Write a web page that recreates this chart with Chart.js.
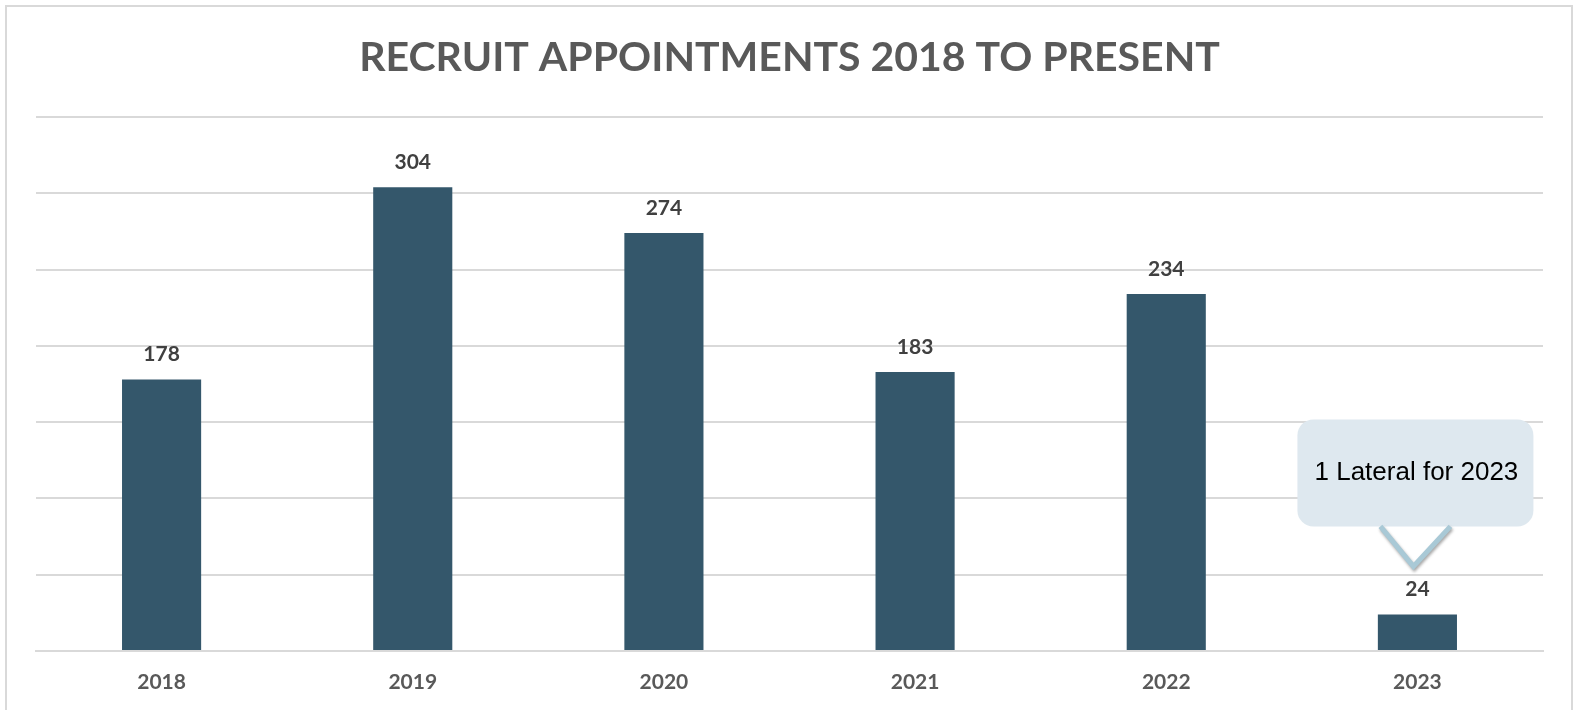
<!DOCTYPE html>
<html>
<head>
<meta charset="utf-8">
<script src="https://cdn.jsdelivr.net/npm/chart.js@4"></script>
<style>
  html, body { margin: 0; padding: 0; background: #fff; }
  #wrap { width: 1573px; height: 710px; }
</style>
</head>
<body>
<div id="wrap"><canvas id="recruits"></canvas></div>
<script>
const years = ["2018", "2019", "2020", "2021", "2022", "2023"];
const appointments = [178, 304, 274, 183, 234, 24];
const calloutText = "1 Lateral for 2023";
const calloutYear = "2023";

const labelFont = "Lato, 'Open Sans', sans-serif";

// outer frame around the chart
const framePlugin = {
    id: "frame",
    beforeDraw(chart) {
        const { ctx } = chart;
        ctx.save();
        ctx.fillStyle = "#fff";
        ctx.fillRect(0, 0, chart.width, chart.height);
        ctx.strokeStyle = "#d9d9d9";
        ctx.lineWidth = 2;
        ctx.strokeRect(6, 6, chart.width - 7, chart.height + 10);
        ctx.restore();
    }
};

// value above each bar
const valueLabels = {
    id: "valueLabels",
    afterDatasetsDraw(chart) {
        const { ctx } = chart;
        const meta = chart.getDatasetMeta(0);
        ctx.save();
        ctx.font = "bold 21px " + labelFont;
        ctx.fillStyle = "#404040";
        ctx.textAlign = "center";
        ctx.textBaseline = "middle";
        meta.data.forEach((bar, i) => {
            ctx.fillText(String(appointments[i]), bar.x, bar.y - 25);
        });
        ctx.restore();
    }
};

// speech-bubble note over the last bar
const callout = {
    id: "callout",
    afterDraw(chart) {
        const { ctx } = chart;
        const idx = years.indexOf(calloutYear);
        const bar = chart.getDatasetMeta(0).data[idx];
        const w = 236, h = 107, r = 16;
        const cx = bar.x - 2;
        const bottom = bar.y - 88;
        const left = cx - w / 2, top = bottom - h;

        ctx.save();
        ctx.fillStyle = "#dee8ef";
        ctx.beginPath();
        ctx.roundRect(left, top, w, h, r);
        ctx.fill();

        ctx.shadowColor = "rgba(0,0,0,0.35)";
        ctx.shadowBlur = 3;
        ctx.shadowOffsetX = 1;
        ctx.shadowOffsetY = 2;
        ctx.strokeStyle = "#a9c9d6";
        ctx.lineWidth = 5;
        ctx.beginPath();
        ctx.moveTo(cx - 35, bottom);
        ctx.lineTo(cx - 2, bar.y - 48);
        ctx.lineTo(cx + 35, bottom);
        ctx.stroke();
        ctx.shadowColor = "transparent";

        ctx.fillStyle = "#000";
        ctx.font = "26px 'Liberation Sans', Arial, sans-serif";
        ctx.textAlign = "center";
        ctx.textBaseline = "middle";
        ctx.fillText(calloutText, cx + 1, top + h / 2);
        ctx.restore();
    }
};

new Chart(document.getElementById("recruits"), {
    type: "bar",
    data: {
        labels: years,
        datasets: [{
            data: appointments,
            backgroundColor: "#34576b",
            barPercentage: 0.63,
            categoryPercentage: 0.5
        }]
    },
    options: {
        responsive: true,
        maintainAspectRatio: false,
        animation: false,
        layout: {
            padding: { left: 36, right: 30, top: 0, bottom: 0 }
        },
        plugins: {
            legend: { display: false },
            tooltip: { enabled: false },
            title: {
                display: true,
                text: "RECRUIT APPOINTMENTS 2018 TO PRESENT",
                color: "#595959",
                font: { family: labelFont, size: 41, weight: "bold", lineHeight: 1.2 },
                padding: { top: 33, bottom: 35 }
            }
        },
        scales: {
            x: {
                grid: { display: false, drawTicks: false },
                border: { display: true, color: "#d9d9d9", width: 2 },
                ticks: {
                    color: "#595959",
                    font: { family: labelFont, size: 21, weight: "bold" },
                    padding: 19
                },
                afterFit(scale) {
                    scale.height = 59;
                }
            },
            y: {
                min: 0,
                max: 350,
                ticks: { display: false, stepSize: 50 },
                grid: { color: "#d9d9d9", lineWidth: 2, drawTicks: false },
                border: { display: false }
            }
        }
    },
    plugins: [framePlugin, valueLabels, callout]
});
</script>
</body>
</html>
